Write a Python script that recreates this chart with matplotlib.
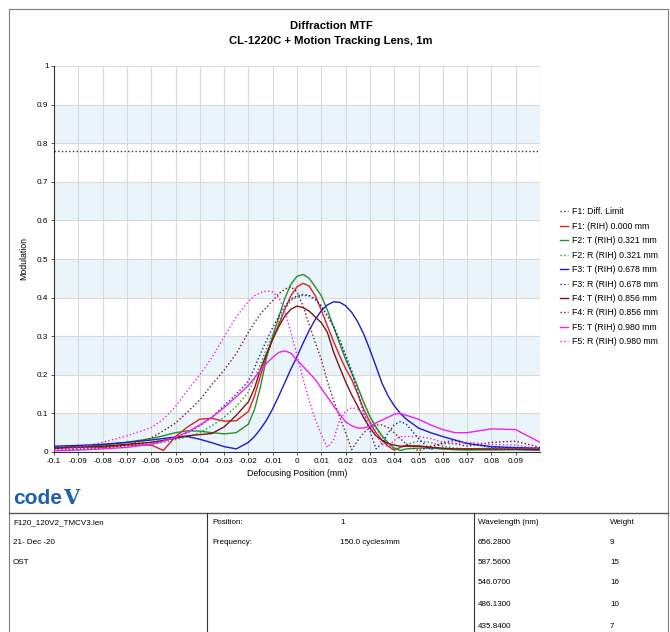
"""Diffraction MTF through-focus plot, CODE V style report page."""

import matplotlib
matplotlib.use("Agg")
import matplotlib.pyplot as plt
from matplotlib.lines import Line2D
import numpy as np

plt.rcParams["font.family"] = ["Liberation Sans", "DejaVu Sans"]

# defocus positions (mm)
X = [-0.1, -0.09, -0.08, -0.07, -0.06, -0.055, -0.05, -0.045, -0.04, -0.035,
     -0.03, -0.025, -0.02, -0.0175, -0.015, -0.0125, -0.01, -0.0075, -0.005,
     -0.0025, 0.0, 0.0025, 0.005, 0.0075, 0.01, 0.0125, 0.015, 0.0175, 0.02,
     0.0225, 0.025, 0.0275, 0.03, 0.0325, 0.035, 0.0375, 0.04, 0.0425, 0.045,
     0.05, 0.055, 0.06, 0.065, 0.07, 0.08, 0.09, 0.1]

DIFF_LIMIT = 0.78

F1 = [0.010, 0.015, 0.012, 0.018, 0.018, 0.004, 0.040, 0.065, 0.085, 0.087,
      0.080, 0.081, 0.105, 0.145, 0.198, 0.250, 0.292, 0.330, 0.370,
      0.405, 0.428, 0.437, 0.430, 0.405, 0.368, 0.327, 0.287, 0.250, 0.216,
      0.188, 0.150, 0.110, 0.078, 0.050, 0.030, 0.015, 0.005, 0.012, 0.017,
      0.016, 0.012, 0.008, 0.007, 0.008, 0.006, 0.007, 0.006]
F2_T = [0.010, 0.013, 0.018, 0.025, 0.035, 0.042, 0.050, 0.055, 0.054, 0.050,
        0.047, 0.050, 0.072, 0.110, 0.170, 0.245, 0.300, 0.350, 0.398,
        0.435, 0.455, 0.460, 0.450, 0.428, 0.405, 0.368, 0.325, 0.282, 0.240,
        0.205, 0.168, 0.128, 0.092, 0.065, 0.042, 0.024, 0.010, 0.004, 0.008,
        0.010, 0.010, 0.008, 0.006, 0.005, 0.006, 0.006, 0.005]
F2_R = [0.008, 0.010, 0.012, 0.015, 0.020, 0.025, 0.032, 0.040, 0.050, 0.068,
        0.090, 0.118, 0.155, 0.190, 0.228, 0.268, 0.305, 0.340, 0.370,
        0.392, 0.403, 0.406, 0.404, 0.395, 0.378, 0.355, 0.328, 0.292, 0.252,
        0.212, 0.168, 0.128, 0.092, 0.062, 0.038, 0.020, 0.008, 0.012, 0.020,
        0.028, 0.025, 0.015, 0.010, 0.008, 0.010, 0.008, 0.006]
F3_T = [0.015, 0.017, 0.020, 0.025, 0.031, 0.035, 0.039, 0.040, 0.033, 0.024,
        0.014, 0.008, 0.025, 0.040, 0.060, 0.083, 0.112, 0.145, 0.180,
        0.215, 0.247, 0.282, 0.315, 0.343, 0.366, 0.381, 0.389, 0.388, 0.379,
        0.362, 0.337, 0.305, 0.265, 0.222, 0.178, 0.145, 0.120, 0.100, 0.085,
        0.062, 0.050, 0.040, 0.031, 0.022, 0.014, 0.011, 0.010]
F3_R = [0.012, 0.013, 0.015, 0.018, 0.025, 0.030, 0.037, 0.050, 0.068, 0.090,
        0.120, 0.150, 0.183, 0.218, 0.255, 0.290, 0.322, 0.352, 0.378,
        0.396, 0.404, 0.408, 0.406, 0.396, 0.378, 0.352, 0.325, 0.290, 0.250,
        0.205, 0.155, 0.100, 0.055, 0.008, 0.022, 0.050, 0.070, 0.079, 0.072,
        0.035, 0.005, 0.025, 0.030, 0.022, 0.012, 0.012, 0.010]
F4_T = [0.010, 0.012, 0.015, 0.020, 0.025, 0.030, 0.036, 0.042, 0.045, 0.048,
        0.065, 0.095, 0.130, 0.165, 0.215, 0.255, 0.292, 0.325, 0.352,
        0.370, 0.378, 0.374, 0.365, 0.350, 0.335, 0.310, 0.260, 0.220, 0.182,
        0.148, 0.118, 0.088, 0.062, 0.042, 0.030, 0.022, 0.018, 0.015, 0.015,
        0.015, 0.012, 0.010, 0.008, 0.008, 0.008, 0.007, 0.006]
F4_R = [0.005, 0.007, 0.010, 0.018, 0.036, 0.055, 0.075, 0.104, 0.135, 0.175,
        0.212, 0.255, 0.310, 0.335, 0.358, 0.375, 0.392, 0.410, 0.422,
        0.428, 0.415, 0.378, 0.330, 0.284, 0.240, 0.183, 0.135, 0.092, 0.050,
        0.006, 0.030, 0.050, 0.063, 0.070, 0.070, 0.063, 0.050, 0.035, 0.020,
        0.003, 0.015, 0.022, 0.022, 0.015, 0.025, 0.028, 0.012]
F5_T = [0.003, 0.005, 0.008, 0.012, 0.020, 0.028, 0.038, 0.052, 0.070, 0.090,
        0.115, 0.143, 0.172, 0.192, 0.212, 0.230, 0.245, 0.258, 0.262,
        0.256, 0.238, 0.222, 0.205, 0.188, 0.165, 0.143, 0.120, 0.098, 0.078,
        0.068, 0.062, 0.062, 0.068, 0.075, 0.083, 0.090, 0.098, 0.100, 0.095,
        0.085, 0.070, 0.058, 0.050, 0.050, 0.060, 0.058, 0.025]
F5_R = [0.005, 0.012, 0.025, 0.042, 0.063, 0.085, 0.118, 0.160, 0.200, 0.245,
        0.298, 0.350, 0.390, 0.405, 0.413, 0.417, 0.415, 0.400, 0.365,
        0.310, 0.250, 0.190, 0.133, 0.085, 0.045, 0.012, 0.030, 0.083, 0.105,
        0.115, 0.110, 0.098, 0.075, 0.045, 0.020, 0.015, 0.030, 0.040, 0.040,
        0.040, 0.035, 0.025, 0.022, 0.025, 0.020, 0.018, 0.008]

SERIES = [
    ("F1: (RIH) 0.000 mm", F1, "#e02020", "-"),
    ("F2: T (RIH) 0.321 mm", F2_T, "#2a8f2a", "-"),
    ("F2: R (RIH) 0.321 mm", F2_R, "#2a8f2a", ":"),
    ("F3: T (RIH) 0.678 mm", F3_T, "#1c1cc8", "-"),
    ("F3: R (RIH) 0.678 mm", F3_R, "#1c1cc8", ":"),
    ("F4: T (RIH) 0.856 mm", F4_T, "#7a1616", "-"),
    ("F4: R (RIH) 0.856 mm", F4_R, "#7a1616", ":"),
    ("F5: T (RIH) 0.980 mm", F5_T, "#f020f0", "-"),
    ("F5: R (RIH) 0.980 mm", F5_R, "#f020f0", ":"),
]

X_TICKS = [round(-0.1 + 0.01 * i, 2) for i in range(20)]
X_TICK_LABELS = ["-0.1", "-0.09", "-0.08", "-0.07", "-0.06", "-0.05", "-0.04",
                 "-0.03", "-0.02", "-0.01", "0", "0.01", "0.02", "0.03", "0.04",
                 "0.05", "0.06", "0.07", "0.08", "0.09"]
Y_TICKS = [round(0.1 * i, 1) for i in range(11)]
Y_TICK_LABELS = ["0", "0.1", "0.2", "0.3", "0.4", "0.5", "0.6", "0.7", "0.8", "0.9", "1"]

INFO_LEFT = ["F120_120V2_TMCV3.len", "21- Dec -20", "OST"]
INFO_MID = [("Position:", "1"), ("Frequency:", "150.0 cycles/mm")]
WAVELENGTHS = ["656.2800", "587.5600", "546.0700", "486.1300", "435.8400"]
WEIGHTS = ["9", "15", "16", "10", "7"]

W, H = 670, 632
fig = plt.figure(figsize=(W / 100, H / 100), dpi=100)


def fx(px):
    return px / W


def fy(py):
    return 1 - py / H


ax = fig.add_axes([fx(54), fy(452), fx(540) - fx(54), fy(66) - fy(452)])
for k in range(0, 10, 2):
    ax.axhspan(Y_TICKS[k], Y_TICKS[k + 1], color="#eaf4fb", lw=0, zorder=0)
for t in X_TICKS[1:] + [0.1]:
    ax.axvline(t, color="#d9d9d9", lw=0.8, zorder=1)
for t in Y_TICKS[1:]:
    ax.axhline(t, color="#d9d9d9", lw=0.8, zorder=1)

ax.plot(X, np.full(len(X), DIFF_LIMIT), color="#333333", ls=":", lw=1.0,
        label="F1: Diff. Limit", zorder=3)
for label, ys, color, ls in SERIES:
    ax.plot(X, ys, color=color, ls=ls, lw=1.0, label=label, zorder=3)

ax.set_xlim(-0.1, 0.1)
ax.set_ylim(0, 1)
ax.set_xticks(X_TICKS)
ax.set_xticklabels(X_TICK_LABELS)
ax.set_yticks(Y_TICKS)
ax.set_yticklabels(Y_TICK_LABELS)
ax.tick_params(labelsize=5.9, length=2.5, width=0.6, pad=1.5, color="#333333")
for side in ("top", "right"):
    ax.spines[side].set_visible(False)
for side in ("left", "bottom"):
    ax.spines[side].set_color("#333333")
    ax.spines[side].set_linewidth(0.8)
ax.set_xlabel("Defocusing Position (mm)", fontsize=6.3, labelpad=3)
ax.set_ylabel("Modulation", fontsize=6.3, labelpad=6)

handles, labels = ax.get_legend_handles_labels()
fig.legend(handles, labels, loc="upper left",
           bbox_to_anchor=(fx(556), fy(204)), frameon=False, fontsize=6.3,
           handlelength=1.0, handletextpad=0.4, labelspacing=0.62,
           borderaxespad=0)

fig.text(fx(331), fy(26), "Diffraction MTF", ha="center", va="center",
         fontsize=8.1, fontweight="bold")
fig.text(fx(331), fy(41), "CL-1220C + Motion Tracking Lens, 1m", ha="center",
         va="center", fontsize=8.1, fontweight="bold")

# page frame and info table
border = "#7f7f7f"
fig.add_artist(Line2D([fx(9), fx(668)], [fy(9), fy(9)], color=border, lw=0.8))
fig.add_artist(Line2D([fx(9), fx(9)], [fy(9), 0], color=border, lw=0.8))
fig.add_artist(Line2D([fx(668), fx(668)], [fy(9), 0], color=border, lw=0.8))
fig.add_artist(Line2D([fx(9), fx(668)], [fy(513), fy(513)], color="#555555", lw=1.0))
for xv in (207, 474):
    fig.add_artist(Line2D([fx(xv), fx(xv)], [fy(513), 0], color="#333333", lw=0.8))

# logo
fig.text(fx(13), fy(498), "code", color="#1f5fae", fontsize=15,
         fontweight="bold", va="center", ha="left")
fig.text(fx(63), fy(498), "V", color="#1f5fae", fontsize=15,
         fontweight="bold", va="center", ha="left", family="DejaVu Serif")

rows_y = [523, 543, 563, 583, 605, 627]
tsize = 5.8
for i, s in enumerate(INFO_LEFT):
    fig.text(fx(13), fy(rows_y[i]), s, fontsize=tsize, va="center")
for i, (k, v) in enumerate(INFO_MID):
    fig.text(fx(212), fy(rows_y[i]), k, fontsize=tsize, va="center")
    fig.text(fx(340), fy(rows_y[i]), v, fontsize=tsize, va="center")
fig.text(fx(478), fy(rows_y[0]), "Wavelength (nm)", fontsize=tsize, va="center")
fig.text(fx(610), fy(rows_y[0]), "Weight", fontsize=tsize, va="center")
for i, (wl, wt) in enumerate(zip(WAVELENGTHS, WEIGHTS)):
    fig.text(fx(478), fy(rows_y[i + 1]), wl, fontsize=tsize, va="center")
    fig.text(fx(610), fy(rows_y[i + 1]), wt, fontsize=tsize, va="center")

fig.savefig("out.png", dpi=100, facecolor="white")
